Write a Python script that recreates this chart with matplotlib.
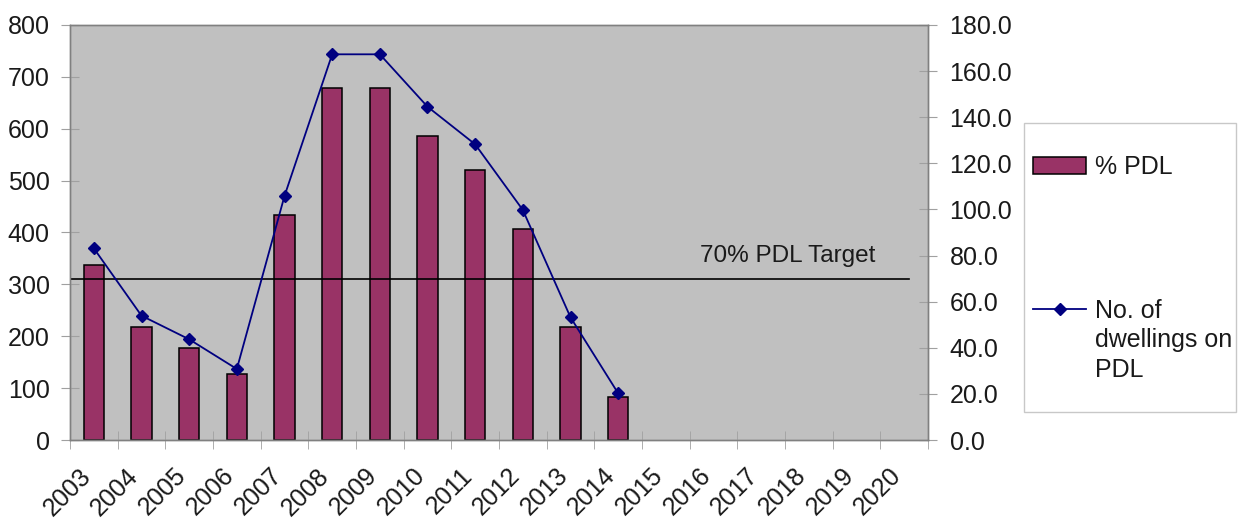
import matplotlib
matplotlib.use('Agg')
import matplotlib.pyplot as plt
from matplotlib.patches import Rectangle
from matplotlib.ticker import FormatStrFormatter, MultipleLocator, FixedLocator

plt.rcParams['font.family'] = ['Liberation Sans', 'DejaVu Sans']

years = [str(y) for y in range(2003, 2021)]
pct_pdl = [75.9, 49.1, 39.8, 28.5, 97.6, 152.5, 152.5, 132.0, 117.1, 91.4, 49.1, 18.8]
dwellings_pdl = [369.5, 239.6, 194.1, 136.9, 470.4, 743.5, 743.5, 642.5, 570.0, 443.4, 236.5, 90.0]
target_pct = 70
target_label = '70% PDL Target'

W, H = 1248, 525
fig = plt.figure(figsize=(W / 100, H / 100), dpi=100)
ax = fig.add_axes([70 / W, 1 - 440 / H, (928 - 70) / W, (440 - 25) / H])
ax2 = ax.twinx()

# bars (right axis) sit under the dwellings line (left axis)
ax.set_zorder(ax2.get_zorder() + 1)
ax.patch.set_visible(False)
ax2.patch.set_visible(True)
ax2.patch.set_facecolor('#c0c0c0')

x_bar = list(range(len(pct_pdl)))
bars = ax2.bar(x_bar, pct_pdl, width=0.43, color='#993366', edgecolor='black',
               linewidth=1.1, zorder=2)
ax2.plot([-0.5, 17.1], [target_pct, target_pct], color='black', linewidth=1.2, zorder=3)
ax2.text(16.4, 77.2, target_label, ha='right', va='baseline', fontsize=17.5, color='#1a1a1a')

line, = ax.plot(x_bar, dwellings_pdl, color='#000080', linewidth=1.3, marker='D',
                markersize=6.5, markerfacecolor='#000080', markeredgecolor='#000080')

ax.set_xlim(-0.5, len(years) - 0.5)
ax.set_ylim(0, 800)
ax2.set_ylim(0, 180)
ax.yaxis.set_major_locator(MultipleLocator(100))
ax2.yaxis.set_major_locator(MultipleLocator(20))
ax2.yaxis.set_major_formatter(FormatStrFormatter('%.1f'))

# labels sit a little left of the category centre, tick marks on the boundaries
ax.set_xticks([i - 0.32 for i in range(len(years))])
ax.set_xticklabels(years, rotation=45, ha='right', va='top', rotation_mode='anchor')
ax.xaxis.set_minor_locator(FixedLocator([i - 0.5 for i in range(len(years) + 1)]))
ax.tick_params(axis='x', which='major', length=0, pad=17, labelsize=18, colors='#1a1a1a')
ax.tick_params(axis='x', which='minor', direction='inout', length=13, color='#a0a0a0')

ax.tick_params(axis='y', direction='inout', length=13, pad=8, labelsize=18,
               color='#a0a0a0', labelcolor='#1a1a1a')
ax2.tick_params(axis='y', direction='inout', length=13, pad=9, labelsize=18,
                color='#a0a0a0', labelcolor='#1a1a1a')

for a in (ax, ax2):
    for s in a.spines.values():
        s.set_color('#808080')
        s.set_linewidth(1.0)

# legend box
fig.add_artist(Rectangle((1024 / W, 1 - 412 / H), (1236 - 1024) / W, (412 - 123) / H,
                         transform=fig.transFigure, facecolor='white',
                         edgecolor='#c8c8c8', linewidth=1.0, zorder=1))
leg = fig.legend([bars, line], ['% PDL', 'No. of'],
                 loc='upper left', bbox_to_anchor=(1033 / W, 1 - 155 / H),
                 fontsize=18, frameon=False, borderpad=0, labelspacing=4.8,
                 handlelength=2.12, handletextpad=0.36, borderaxespad=0)
leg.set_zorder(5)
for t in leg.get_texts():
    t.set_color('#1a1a1a')

fig.canvas.draw()
bb = leg.get_texts()[1].get_window_extent()
x0, y0 = fig.transFigure.inverted().transform((bb.x0, bb.y0))
fig.text(x0, y0 - 5 / H, 'dwellings on\nPDL', ha='left', va='top', fontsize=18,
         color='#1a1a1a', linespacing=1.33, zorder=6)

fig.savefig('out.png', dpi=100)
